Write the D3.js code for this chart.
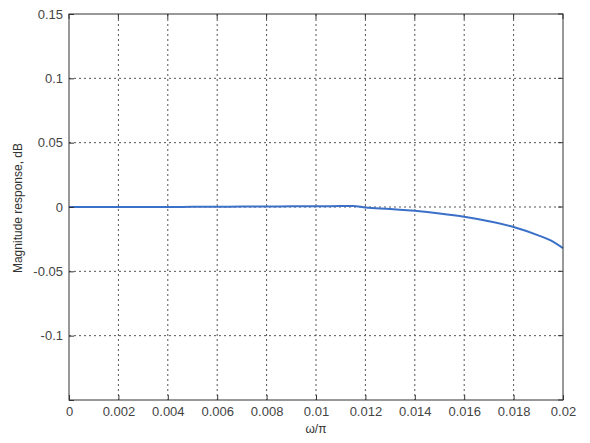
<!DOCTYPE html>
<html><head><meta charset="utf-8">
<script src="https://cdn.jsdelivr.net/npm/d3@7/dist/d3.min.js"></script>
<style>body{margin:0;background:#fff}</style>
</head><body><svg id="c" width="590" height="443"></svg>
<script>
const xTicks = [0,0.002,0.004,0.006,0.008,0.01,0.012,0.014,0.016,0.018,0.02];
const xTickLabels = ["0","0.002","0.004","0.006","0.008","0.01","0.012","0.014","0.016","0.018","0.02"];
const yTicks = [-0.15,-0.1,-0.05,0,0.05,0.1,0.15];
const yTickLabels = ["","-0.1","-0.05","0","0.05","0.1","0.15"];
const freq = [0,0.001,0.002,0.003,0.004,0.005,0.006,0.007,0.008,0.009,0.010,0.011,0.0115,0.012,0.013,0.014,0.015,0.016,0.017,0.018,0.019,0.0195,0.02];
const mag  = [0,0,0,0,0,0.0001,0.0002,0.0003,0.0004,0.0005,0.0006,0.0007,0.0008,-0.0004,-0.0015,-0.003,-0.005,-0.0075,-0.011,-0.0155,-0.022,-0.026,-0.032];

const svg = d3.select("#c");
const L=69,R=563,T=14,B=400;
const x = d3.scaleLinear().domain([0,0.02]).range([L,R]);
const y = d3.scaleLinear().domain([-0.15,0.15]).range([B,T]);
const font = "Liberation Sans, Arial, sans-serif";
const g = svg.append("g");
// grid
g.selectAll(".vg").data(xTicks.slice(1,-1)).enter().append("line")
 .attr("x1",d=>x(d)).attr("x2",d=>x(d)).attr("y1",T).attr("y2",B)
 .attr("stroke","#555").attr("stroke-width",1).attr("stroke-dasharray","2,3");
g.selectAll(".hg").data(yTicks.slice(1,-1)).enter().append("line")
 .attr("y1",d=>y(d)).attr("y2",d=>y(d)).attr("x1",L).attr("x2",R)
 .attr("stroke","#555").attr("stroke-width",1).attr("stroke-dasharray","2,3");
// curve
const line = d3.line().x((d,i)=>x(freq[i])).y(d=>y(d)).curve(d3.curveMonotoneX);
g.append("path").datum(mag).attr("d",line).attr("fill","none")
 .attr("stroke","#3b70c9").attr("stroke-width",2);
// box
g.append("rect").attr("x",L).attr("y",T).attr("width",R-L).attr("height",B-T)
 .attr("fill","none").attr("stroke","#333").attr("stroke-width",1);
// axes
const xa = d3.axisBottom(x).tickValues(xTicks).tickSize(-5).tickPadding(7)
 .tickFormat((d,i)=>xTickLabels[i]);
const ax = svg.append("g").attr("transform",`translate(0,${B})`).call(xa);
const ya = d3.axisLeft(y).tickValues(yTicks).tickSize(-5).tickPadding(6)
 .tickFormat((d,i)=>yTickLabels[i]);
const ay = svg.append("g").attr("transform",`translate(${L},0)`).call(ya);
[ax,ay].forEach(a=>{
 a.select(".domain").remove();
 a.selectAll("line").attr("stroke","#333");
 a.selectAll("text").attr("font-family",font).attr("font-size",13).attr("fill","#444");
});
ax.selectAll("text").attr("dy","0.71em");
// right ticks
svg.selectAll(".rt").data(yTicks).enter().append("line")
 .attr("x1",R-5).attr("x2",R).attr("y1",d=>y(d)).attr("y2",d=>y(d)).attr("stroke","#333");
svg.selectAll(".tt").data(xTicks).enter().append("line")
 .attr("y1",T).attr("y2",T+5).attr("x1",d=>x(d)).attr("x2",d=>x(d)).attr("stroke","#333");
// labels
svg.append("text").attr("x",(L+R)/2).attr("y",433).attr("text-anchor","middle")
 .attr("font-family",font).attr("font-size",12).attr("fill","#333").text("ω/π");
svg.append("text").attr("transform",`translate(22,${208}) rotate(-90)`)
 .attr("text-anchor","middle").attr("font-family",font).attr("font-size",12)
 .attr("fill","#333").text("Magnitude response, dB");
</script></body></html>
